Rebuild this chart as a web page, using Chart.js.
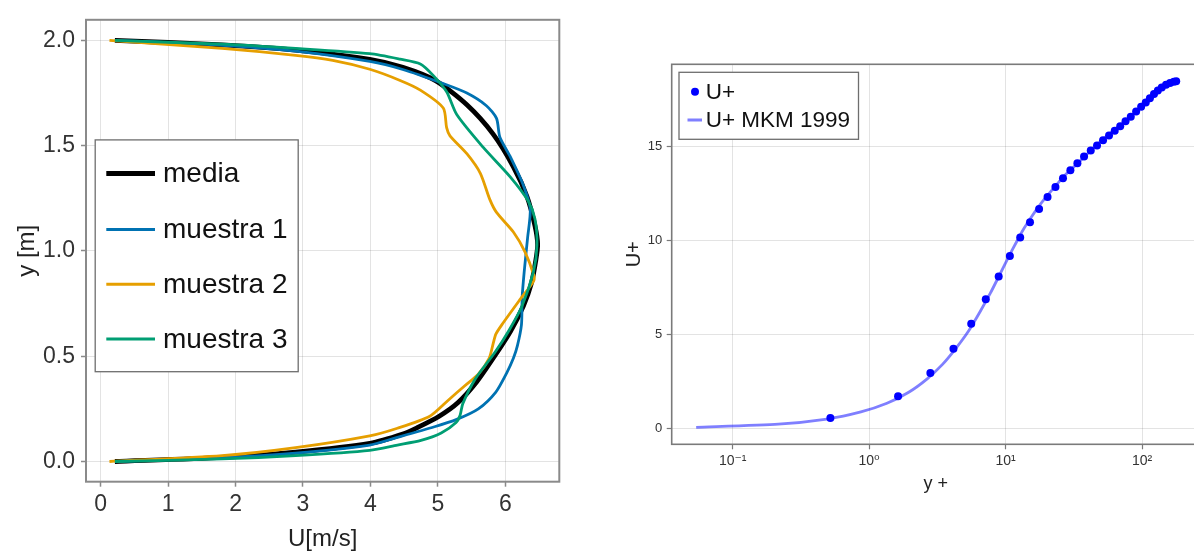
<!DOCTYPE html>
<html>
<head>
<meta charset="utf-8">
<script src="https://cdn.jsdelivr.net/npm/chart.js@4.4.1/dist/chart.umd.min.js"></script>
<style>
  html, body { margin: 0; padding: 0; background: #fff; overflow: hidden; width: 1194px; height: 555px; }
  #perfil { position: absolute; left: 0; top: 0; }
  #ley { position: absolute; left: 600px; top: 0; }
</style>
</head>
<body>
<canvas id="perfil" width="580" height="555"></canvas>
<canvas id="ley" width="610" height="555"></canvas>
<script>
// perfiles de velocidad (U en m/s, y en m)
const mediaU = [0.21, 1.80, 2.89, 3.99, 4.48, 4.69, 5.02, 5.30, 5.58, 5.84, 6.08, 6.27, 6.39, 6.45, 6.48, 6.44, 6.32, 6.12, 5.82, 5.43, 4.96, 4.48, 3.99, 2.89, 1.80, 0.21];
const mediaY = [0.0, 0.02, 0.045, 0.086, 0.13, 0.16, 0.215, 0.28, 0.38, 0.50, 0.62, 0.74, 0.85, 0.95, 1.03, 1.12, 1.26, 1.40, 1.555, 1.694, 1.81, 1.872, 1.91, 1.954, 1.979, 2.0];

const m1U = [0.21, 1.80, 2.89, 3.99, 4.35, 4.95, 5.28, 5.60, 5.86, 6.02, 6.12, 6.18, 6.24, 6.25, 6.28, 6.33, 6.37, 6.27, 6.07, 5.92, 5.87, 5.72, 5.43, 5.08, 4.48, 3.99, 2.89, 1.80, 0.21];
const m1Y = [0.0, 0.018, 0.04, 0.078, 0.11, 0.165, 0.20, 0.25, 0.33, 0.42, 0.49, 0.55, 0.65, 0.78, 0.90, 1.06, 1.20, 1.31, 1.45, 1.54, 1.63, 1.69, 1.75, 1.795, 1.862, 1.90, 1.949, 1.977, 2.0];

const m2U = [0.13, 1.80, 2.89, 3.99, 4.40, 4.88, 5.15, 5.40, 5.60, 5.76, 5.82, 5.86, 5.95, 6.22, 6.42, 6.42, 6.29, 6.12, 5.87, 5.77, 5.63, 5.43, 5.18, 5.13, 5.08, 4.74, 4.44, 3.99, 3.44, 2.89, 1.80, 0.13];
const m2Y = [0.0, 0.028, 0.066, 0.122, 0.158, 0.215, 0.29, 0.36, 0.415, 0.49, 0.56, 0.605, 0.65, 0.77, 0.857, 0.888, 0.997, 1.09, 1.183, 1.245, 1.369, 1.462, 1.547, 1.586, 1.679, 1.764, 1.81, 1.863, 1.905, 1.929, 1.962, 2.0];

const m3U = [0.21, 1.80, 2.89, 3.99, 4.40, 4.75, 5.05, 5.27, 5.33, 5.37, 5.55, 5.85, 6.05, 6.25, 6.42, 6.47, 6.44, 6.34, 6.07, 5.67, 5.28, 5.13, 4.93, 4.74, 4.44, 3.99, 2.89, 1.80, 0.21];
const m3Y = [0.0, 0.012, 0.028, 0.053, 0.078, 0.10, 0.135, 0.185, 0.22, 0.275, 0.39, 0.52, 0.62, 0.74, 0.904, 1.028, 1.152, 1.237, 1.353, 1.493, 1.648, 1.756, 1.834, 1.888, 1.911, 1.937, 1.962, 1.982, 2.0];

const ticksU = [0, 1, 2, 3, 4, 5, 6];
const ticksY = [0, 0.5, 1.0, 1.5, 2.0];

// ley de pared: U+ frente a y+
const yPlus = [0.52, 1.63, 2.81, 4.15, 5.60, 7.16, 8.9, 10.75, 12.8, 15.1, 17.6, 20.3, 23.2, 26.35, 29.85, 33.6, 37.6, 42.1, 46.8, 51.8, 57.3, 63.1, 69.2, 75.7, 82.7, 90.5, 98.5, 106.5, 114.2, 122.4, 130.6, 139.5, 150, 160.5, 171, 178];
const uPlus = [0.55, 1.70, 2.94, 4.23, 5.56, 6.87, 8.07, 9.17, 10.15, 10.96, 11.67, 12.30, 12.84, 13.30, 13.73, 14.10, 14.45, 14.77, 15.04, 15.32, 15.57, 15.82, 16.07, 16.33, 16.57, 16.85, 17.10, 17.33, 17.55, 17.78, 17.96, 18.12, 18.27, 18.37, 18.43, 18.46];

const mkmYPlus = [0.054, 0.216, 0.49, 0.87, 1.35, 1.95, 2.65, 3.45, 4.35, 5.4, 6.5, 7.75, 9.1, 10.5, 12.1, 13.7, 15.5, 17.3, 19.3, 23.6, 28.5, 33.9, 39.8, 46.3, 53.3, 60.8, 68.7, 77.0, 85.7, 94.6, 103.7, 112.9, 122.0, 131.0, 139.7, 148.0, 155.8, 162.9, 169.1, 174.4, 178.4];
const mkmUPlus = [0.05, 0.22, 0.49, 0.87, 1.33, 1.92, 2.62, 3.40, 4.28, 5.22, 6.2, 7.2, 8.2, 9.1, 9.95, 10.65, 11.25, 11.75, 12.2, 12.95, 13.6, 14.1, 14.6, 15.05, 15.45, 15.8, 16.1, 16.4, 16.7, 17.0, 17.28, 17.52, 17.75, 17.93, 18.08, 18.22, 18.32, 18.38, 18.42, 18.44, 18.45];

const ticksYPlus = [0.1, 1, 10, 100];
const ticksUPlus = [0, 5, 10, 15];
const SUP = { '-1': '10⁻¹', '0': '10⁰', '1': '10¹', '2': '10²' };

const FUENTE = "'Liberation Sans', Arial, 'DejaVu Sans', sans-serif";
const pares = (xs, ys) => xs.map((x, i) => ({ x, y: ys[i] }));

// caja alrededor del area de dibujo
const marco = {
  id: 'marco',
  afterDraw(chart, args, o) {
    const { ctx, chartArea: a } = chart;
    ctx.save();
    ctx.strokeStyle = o.color;
    ctx.lineWidth = o.width;
    ctx.strokeRect(a.left, a.top, a.right - a.left, a.bottom - a.top);
    ctx.restore();
  }
};

// leyenda dentro del area, al estilo de Makie
const leyenda = {
  id: 'leyenda',
  afterDraw(chart, args, o) {
    if (!o.items) return;
    const { ctx, chartArea: a } = chart;
    const x0 = a.left + o.x, y0 = a.top + o.y;
    ctx.save();
    ctx.fillStyle = '#fff';
    ctx.fillRect(x0, y0, o.w, o.h);
    ctx.strokeStyle = '#6e6e6e';
    ctx.lineWidth = 1.3;
    ctx.strokeRect(x0, y0, o.w, o.h);
    ctx.font = o.font;
    ctx.textBaseline = 'middle';
    ctx.textAlign = 'left';
    o.items.forEach(it => {
      const cy = a.top + it.y;
      if (it.tipo === 'punto') {
        ctx.fillStyle = it.color;
        ctx.beginPath();
        ctx.arc(a.left + o.marcaX, cy, it.r, 0, Math.PI * 2);
        ctx.fill();
      } else {
        ctx.strokeStyle = it.color;
        ctx.lineWidth = it.ancho;
        ctx.beginPath();
        ctx.moveTo(a.left + o.lineaX0, cy);
        ctx.lineTo(a.left + o.lineaX1, cy);
        ctx.stroke();
      }
      ctx.fillStyle = '#111';
      ctx.fillText(it.texto, a.left + o.textoX, cy + 1);
    });
    ctx.restore();
  }
};

const rejilla = 'rgba(0,0,0,0.11)';

new Chart(document.getElementById('perfil'), {
  type: 'scatter',
  data: {
    datasets: [
      { label: 'media', data: pares(mediaU, mediaY), showLine: true, borderColor: '#000', borderWidth: 4.8, pointRadius: 0, tension: 0.25, order: 4 },
      { label: 'muestra 1', data: pares(m1U, m1Y), showLine: true, borderColor: '#0072B2', borderWidth: 2.8, pointRadius: 0, tension: 0.25, order: 3 },
      { label: 'muestra 2', data: pares(m2U, m2Y), showLine: true, borderColor: '#E69F00', borderWidth: 2.8, pointRadius: 0, tension: 0.25, order: 2 },
      { label: 'muestra 3', data: pares(m3U, m3Y), showLine: true, borderColor: '#009E73', borderWidth: 2.8, pointRadius: 0, tension: 0.25, order: 1 }
    ]
  },
  options: {
    responsive: false,
    animation: false,
    events: [],
    layout: { padding: { top: 10, right: 20.7, left: 0, bottom: 0 } },
    plugins: {
      legend: { display: false },
      tooltip: { enabled: false },
      marco: { color: '#8a8a8a', width: 2 },
      leyenda: {
        x: 9.2, y: 120.1, w: 203, h: 231.8,
        font: `28px ${FUENTE}`,
        lineaX0: 20.3, lineaX1: 69, textoX: 77,
        items: [
          { texto: 'media', color: '#000', ancho: 5, y: 153.7 },
          { texto: 'muestra 1', color: '#0072B2', ancho: 3, y: 209.6 },
          { texto: 'muestra 2', color: '#E69F00', ancho: 3, y: 264.5 },
          { texto: 'muestra 3', color: '#009E73', ancho: 3, y: 319.3 }
        ]
      }
    },
    scales: {
      x: {
        min: -0.218, max: 6.801,
        afterBuildTicks: s => { s.ticks = ticksU.map(v => ({ value: v })); },
        afterFit: s => { s.height = 73.3; },
        border: { display: false },
        grid: { color: rejilla, lineWidth: 1, tickLength: 5, tickColor: '#8a8a8a', tickWidth: 1.5 },
        ticks: { color: '#333', font: { family: FUENTE, size: 23 }, padding: 4, maxRotation: 0, callback: v => String(v) },
        title: { display: true, text: 'U[m/s]', color: '#222', font: { family: FUENTE, size: 24 }, padding: { top: 0, bottom: 1.6 } }
      },
      y: {
        min: -0.096, max: 2.098,
        afterBuildTicks: s => { s.ticks = ticksY.map(v => ({ value: v })); },
        afterFit: s => { s.width = 86; },
        border: { display: false },
        grid: { color: rejilla, lineWidth: 1, tickLength: 5, tickColor: '#8a8a8a', tickWidth: 1.5 },
        ticks: { color: '#333', font: { family: FUENTE, size: 23 }, padding: 6, callback: v => v.toFixed(1) },
        title: { display: true, text: 'y [m]', color: '#222', font: { family: FUENTE, size: 24 }, padding: { top: 13, bottom: 0 } }
      }
    }
  },
  plugins: [marco, leyenda]
});

new Chart(document.getElementById('ley'), {
  type: 'scatter',
  data: {
    datasets: [
      { label: 'U+', data: pares(yPlus, uPlus), showLine: false, pointRadius: 4, pointBorderWidth: 0, pointBackgroundColor: '#0000ff', pointBorderColor: '#0000ff', order: 1 },
      { label: 'U+ MKM 1999', data: pares(mkmYPlus, mkmUPlus), showLine: true, borderColor: 'rgba(0,0,255,0.5)', borderWidth: 2.8, pointRadius: 0, tension: 0.2, order: 2 }
    ]
  },
  options: {
    responsive: false,
    animation: false,
    events: [],
    layout: { padding: { top: 64.3, right: 10, left: 0, bottom: 0 } },
    plugins: {
      legend: { display: false },
      tooltip: { enabled: false },
      marco: { color: '#7a7a7a', width: 1.6 },
      leyenda: {
        x: 7.3, y: 8, w: 179.5, h: 67,
        font: `22.5px ${FUENTE}`,
        marcaX: 23.3, lineaX0: 15.8, lineaX1: 30.3, textoX: 34,
        items: [
          { texto: 'U+', tipo: 'punto', color: '#0000ff', r: 4, y: 27.4 },
          { texto: 'U+ MKM 1999', color: 'rgba(0,0,255,0.5)', ancho: 3, y: 55.7 }
        ]
      }
    },
    scales: {
      x: {
        type: 'logarithmic',
        min: 0.03573, max: 266,
        afterBuildTicks: s => { s.ticks = ticksYPlus.map(v => ({ value: v })); },
        afterFit: s => { s.height = 110.7; },
        border: { display: false },
        grid: { color: rejilla, lineWidth: 1, tickLength: 5, tickColor: '#7a7a7a', tickWidth: 1.2 },
        ticks: { color: '#333', font: { family: FUENTE, size: 14 }, padding: 3, maxRotation: 0, callback: v => SUP[String(Math.round(Math.log10(v)))] },
        title: { display: true, text: 'y +', color: '#222', font: { family: FUENTE, size: 18 }, padding: { top: 0, bottom: 60.2 } }
      },
      y: {
        min: -0.85, max: 19.36,
        afterBuildTicks: s => { s.ticks = ticksUPlus.map(v => ({ value: v })); },
        afterFit: s => { s.width = 71.7; },
        border: { display: false },
        grid: { color: rejilla, lineWidth: 1, tickLength: 5, tickColor: '#7a7a7a', tickWidth: 1.2 },
        ticks: { color: '#333', font: { family: FUENTE, size: 13 }, padding: 4.4, callback: v => String(v) },
        title: { display: true, text: 'U+', color: '#222', font: { family: FUENTE, size: 20 }, padding: { top: 22, bottom: 0 } }
      }
    }
  },
  plugins: [marco, leyenda]
});
</script>
</body>
</html>
